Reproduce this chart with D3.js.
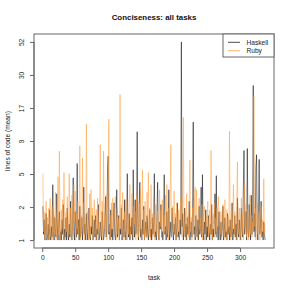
<!DOCTYPE html>
<html>
<head>
<meta charset="utf-8">
<script src="https://cdn.jsdelivr.net/npm/d3@7"></script>
<style>
  body { margin: 0; background: #fff; }
  svg { display: block; font-family: "Liberation Sans", Arial, sans-serif; }
</style>
</head>
<body>
<div id="chart"></div>
<script>

// mean lines of code per task (tasks 1..338)
var haskell = [
    2.5,1.2,1.8,1,1.4,2.1,1,1.1,1.6,1,2.3,1.2,1,1.5,1.1,4.0,1.3,1,1.9,1.2,
    1.1,3.3,1.4,1,1.7,2.2,1,1.3,1,1.8,1.2,2.6,1,1.4,1.1,1.9,1,2.4,1.3,1,
    1.6,1.1,2.8,1.2,1,1.5,4.6,1.3,1,2.2,1.4,1.1,6.1,1.2,1.8,1,2.5,1.1,1.3,1.9,
    1,1.4,3.8,1.2,1.6,1,2.1,1.3,1,1.7,2.4,1.1,1,1.5,1.2,2.0,1,1.3,1.8,1.1,
    2.0,1,1.4,1.2,2.6,1,1.1,1.7,1.3,1,2.2,1.5,1,1.2,1.8,3.1,1.1,1.4,5.2,7.0,
    1.2,1.6,1,2.3,1.1,1.4,1,1.9,2.7,1.2,1,1.5,3.6,1.1,1.3,2.0,1,1.4,1.2,2.4,
    1,1.3,1.8,1.1,2.9,1.2,1,1.6,5.0,1.3,1.1,2.1,1,1.5,1.2,1.9,1,5.4,1.4,1.1,
    2.9,1.2,1.6,11,1.3,1,2.2,4.2,1.1,1.4,1,1.8,1.2,2.5,1,1.3,1.7,1.1,2.0,1.2,
    1,1.5,2.3,1.1,1.4,1,1.9,1.2,1.6,5.0,1.1,1.3,1,2.1,4.2,1.2,1,1.7,1.4,2.6,
    1.1,1.3,1,1.8,4.9,1.2,1.5,1,2.2,1.1,1.4,3.6,1,1.2,1.7,1.1,2.4,1.3,1,1.6,
    1.2,1.9,1,1.4,2.7,1.1,1.3,1,1.8,1.2,52,1.5,2.1,1,1.3,2.4,1.1,1.6,1,1.9,
    1.2,1.4,2.8,1,1.3,1.7,1.1,2.2,13.1,1.2,1.5,1,2.0,1.3,1.1,1.8,1,2.5,1.2,1.4,
    3.8,1.1,4.9,1.3,1,1.7,1.2,2.3,1,1.5,1.1,2.0,1.3,1,1.6,1.2,2.6,1,1.4,1.1,
    1.8,3.3,1.2,4.8,1.1,1.5,1,2.2,1.3,1,1.7,1.1,1.4,2.5,1,1.2,1.9,1.1,1.3,1,
    2.1,1.2,1.5,1,1.8,1.1,1.3,2.7,1,1.4,1.2,2.0,1.1,1.6,1,3.0,1.3,1.1,1.8,1.2,
    1,2.4,1.4,1.1,3.8,7.8,1.2,1.6,2.2,1,8.1,1.3,1.1,2.6,1.4,1,3.2,1.2,1.9,24.8,
    1.3,2.1,1.1,5.6,7.2,1.4,1,2.3,6.6,1.2,1.5,2.8,1.1,1.3,1,1.7,1.2,1
];

var ruby = [
    5.0,1.3,2.2,1,1.6,2.8,1.2,1.9,1,2.4,1.4,3.0,1.1,1.7,2.5,1,1.3,2.0,1.2,3.4,
    1,1.8,2.6,4.7,1.2,7.7,1.5,1,2.3,1.4,2.9,1.1,5.1,1.6,1,2.2,1.3,3.1,1.1,1.8,
    5.0,1.2,2.4,1,3.2,1.5,1.1,4.0,1.7,3.5,1,2.1,1.4,2.8,1.2,1.6,8.5,1,2.0,1.3,
    6.8,1.5,2.7,1,1.9,1.2,12.6,1.4,2.2,1,1.7,3.3,1.1,3.6,1.5,2.4,1,1.8,2.9,1.2,
    1.6,2.3,1,3.0,1.3,1.9,2.6,8.7,1.1,1.5,2.8,1,7.7,1.4,2.1,1.2,3.2,1,1.7,2.5,
    13.8,1.3,2.0,1,2.7,1.4,3.0,1.1,1.8,2.3,3.1,1,1.6,2.4,1.2,1.9,1,21.2,1.5,2.6,
    1.1,3.4,1.7,1,2.2,1.3,2.9,1.5,1,2.0,1.2,2.6,4.0,1.1,1.8,3.3,1.4,1,2.5,1.6,
    2.2,1,3.1,1.4,1.9,1.1,2.7,1.3,3.6,1,1.7,5.4,1.2,2.3,1,2.8,1.5,1.1,3.4,1.9,
    5.1,1.2,2.4,1,4.0,1.6,2.1,1.1,3.0,1.3,1,2.6,1.8,1.2,2.2,1.4,1,3.6,1.5,2.3,
    1.1,2.9,1.6,1,2.0,1.3,3.2,1.2,4.0,1.5,1,2.4,1.7,2.8,8.7,1.1,1.9,2.5,1.3,3.5,
    1.2,2.1,1,2.7,1.6,1.3,2.3,1,1.8,3.0,1.4,1.1,2.5,14.2,1.7,1.2,2.2,1,3.3,1.5,
    2.0,1.1,2.8,6.5,1.3,1.9,1,2.4,1.6,1.2,2.9,3.8,1.1,3.6,1.7,1,2.3,3.0,1.4,1.9,
    1.2,2.6,1,1.8,2.2,2.5,1.3,1,2.0,1.5,2.8,1.1,1.7,2.3,1.2,7.8,1.4,1,2.1,1.6,
    2.7,1.1,1.9,1.3,2.4,1,3.1,2.4,1.5,1.2,2.2,1,1.8,2.6,1.3,1.1,2.9,1.6,1,2.3,
    1.4,2.0,1.2,11.1,1.7,1,2.5,1.3,1.9,4.0,1.1,2.2,1.5,1,2.8,6.3,1.2,1.8,2.4,1,
    1.6,3.0,1.2,2.1,1,1.5,4.0,1.3,2.6,1.1,1.8,2.3,1,1.4,3.2,1.2,2.0,1.1,1.7,1.3,
    20.5,1.5,2.4,1,1.9,2.7,1.2,1.6,2.2,1,1.4,2.5,1.1,1.8,1.3,4.5,1.2,1.6
];

var seriesNames = ["Haskell", "Ruby"];
var seriesColors = ["#000000", "#ff9933"];
var seriesOpacity = [0.5, 0.5];

var xTickValues = [0, 50, 100, 150, 200, 250, 300];
// y ticks sit evenly between data min and max on the log(1+x) scale, labels rounded
var yTickLabels = ["1", "2", "5", "9", "17", "30", "52"];

var W = 291, H = 291;
var box = {left: 34, right: 274, top: 34, bottom: 248};

var svg = d3.select("#chart").append("svg")
    .attr("width", W)
    .attr("height", H);

var n = haskell.length;

// R style axes: data range takes 1/1.08 of the box
var padX = (box.right - box.left) / 1.08 * 0.04;
var padY = (box.bottom - box.top) / 1.08 * 0.04;

var x = d3.scaleLinear()
    .domain([1, n])
    .range([box.left + padX, box.right - padX]);

var all = haskell.concat(ruby);
var yMin = d3.min(all), yMax = d3.max(all);

var y = d3.scaleSymlog()
    .constant(1)
    .domain([yMin, yMax])
    .range([box.bottom - padY, box.top + padY]);

// evenly spaced tick positions in transformed space
var yTickValues = yTickLabels.map(function(d, i) {
    return y.invert(y(yMin) + (y(yMax) - y(yMin)) * i / (yTickLabels.length - 1));
});

/*------------- lines ---------------------*/

var line = d3.line()
    .x(function(d, i) { return x(i + 1); })
    .y(function(d) { return y(d); });

[haskell, ruby].forEach(function(data, k) {
    svg.append("path")
        .datum(data)
        .attr("fill", "none")
        .attr("stroke", seriesColors[k])
        .attr("stroke-opacity", seriesOpacity[k])
        .attr("stroke-width", 1)
        .attr("d", line);
});

/*------------- axes ---------------------*/

var xAxis = d3.axisBottom(x)
    .tickValues(xTickValues)
    .tickSize(4)
    .tickPadding(3)
    .tickFormat(d3.format("d"));

var gx = svg.append("g")
    .attr("transform", "translate(0," + box.bottom + ")")
    .call(xAxis);

gx.select(".domain")
    .attr("d", "M" + x(xTickValues[0]) + ",0H" + x(xTickValues[xTickValues.length - 1]));

gx.selectAll("text")
    .style("font-size", "6.6px")
    .attr("fill", "#222")
    .attr("font-family", null);

var yAxis = d3.axisLeft(y)
    .tickValues(yTickValues)
    .tickSize(4)
    .tickFormat(function(d, i) { return yTickLabels[i]; });

var gy = svg.append("g")
    .attr("transform", "translate(" + box.left + ",0)")
    .call(yAxis);

gy.select(".domain")
    .attr("d", "M0," + y(yTickValues[0]) + "V" + y(yTickValues[yTickValues.length - 1]));

gy.selectAll(".tick text")
    .attr("x", null)
    .attr("dy", null)
    .attr("transform", "translate(-10,0) rotate(-90)")
    .attr("text-anchor", "middle")
    .style("font-size", "6.6px")
    .attr("fill", "#222")
    .attr("font-family", null);

svg.selectAll(".domain, .tick line")
    .attr("stroke", "#666");

// plot frame
svg.append("rect")
    .attr("x", box.left)
    .attr("y", box.top)
    .attr("width", box.right - box.left)
    .attr("height", box.bottom - box.top)
    .attr("fill", "none")
    .attr("stroke", "#666");

/*------------- texts ---------------------*/

svg.append("text")
    .attr("x", (box.left + box.right) / 2)
    .attr("y", 20)
    .attr("text-anchor", "middle")
    .style("font-size", "7.9px")
    .style("font-weight", "bold")
    .attr("fill", "#111")
    .text("Conciseness: all tasks");

svg.append("text")
    .attr("x", (box.left + box.right) / 2)
    .attr("y", 279.5)
    .attr("text-anchor", "middle")
    .style("font-size", "6.6px")
    .attr("fill", "#222")
    .text("task");

svg.append("text")
    .attr("transform", "translate(9.7," + (box.top + box.bottom) / 2 + ") rotate(-90)")
    .attr("text-anchor", "middle")
    .style("font-size", "6.6px")
    .attr("fill", "#222")
    .text("lines of code (mean)");

/*------------- legend ---------------------*/

var legend = svg.append("g");

legend.append("rect")
    .attr("x", 223)
    .attr("y", box.top)
    .attr("width", box.right - 223)
    .attr("height", 23)
    .attr("fill", "#fff")
    .attr("stroke", "#666");

var items = legend.selectAll("g.item")
    .data(seriesNames)
    .enter().append("g")
    .attr("class", "item")
    .attr("transform", function(d, i) { return "translate(0," + (42.3 + i * 8.4) + ")"; });

items.append("line")
    .attr("x1", 228)
    .attr("x2", 240)
    .attr("stroke", function(d, i) { return seriesColors[i]; })
    .attr("stroke-opacity", function(d, i) { return seriesOpacity[i] + 0.2; })
    .attr("stroke-width", 1);

items.append("text")
    .attr("x", 246.5)
    .attr("dy", "0.35em")
    .style("font-size", "6.6px")
    .attr("fill", "#222")
    .text(function(d) { return d; });

</script>
</body>
</html>
